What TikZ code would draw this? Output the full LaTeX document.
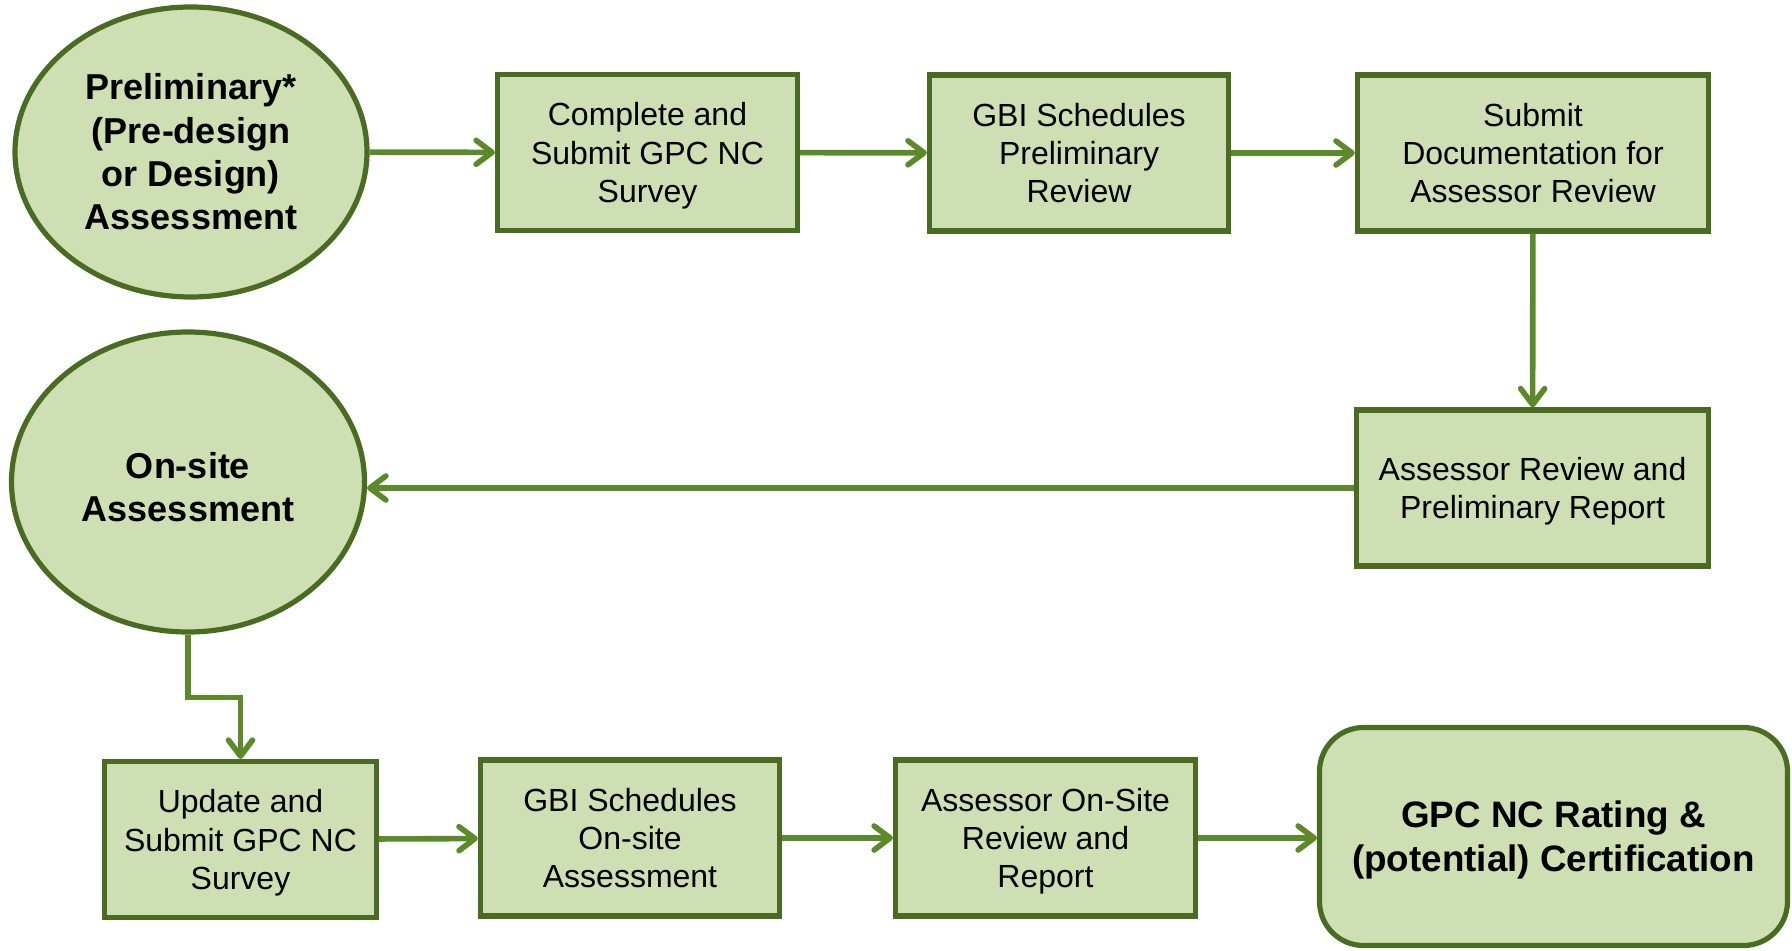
\documentclass[tikz,border=0pt]{standalone}
\usepackage{fontspec}
\setmainfont{Liberation Sans}
\usetikzlibrary{positioning, arrows.meta, shapes.geometric}
\definecolor{stepfill}{HTML}{CFDFB4}
\definecolor{stepline}{HTML}{4A6B22}
\definecolor{flowgreen}{HTML}{5C8A2A}

\tikzset{
	stepbox/.style={rectangle, draw=stepline, fill=stepfill, line width=2.6pt,
		align=center, minimum width=150pt, minimum height=78pt, text depth=0pt,
		font=\fontsize{16}{19.1}\selectfont},
	phase/.style={ellipse, draw=stepline, fill=stepfill, line width=2.6pt,
		align=center, inner sep=0pt, font=\bfseries\fontsize{18}{21.7}\selectfont},
	flow/.style={draw=flowgreen, line width=2.8pt,
		-{Straight Barb[length=8pt, width=12pt, round]}}
}

\begin{document}
\begin{tikzpicture}
			[x=0.5pt, y=-0.5pt]
		\useasboundingbox (0,0) rectangle (1792,951);
		% nodes %
		\node[phase, minimum width=176pt, minimum height=145pt] (prelim) at (191,152)
			{Preliminary*\\(Pre-design\\or Design)\\Assessment};
		\node[stepbox] (survey) at (647.5,152.5) {Complete and\\Submit GPC NC\\Survey};
		\node[stepbox, minimum width=149.6pt] (schedprelim) at (1079,153) {GBI Schedules\\Preliminary\\Review};
		\node[stepbox, minimum width=175.6pt] (submitdoc) at (1533,153) {Submit\\Documentation for\\Assessor Review};
		\node[stepbox, minimum width=176pt] (prelimreport) at (1532.5,488) {Assessor Review and\\Preliminary Report};
		\node[phase, minimum width=176.5pt, minimum height=150pt, text height=40pt, text depth=0pt] (onsite) at (188,482)
			{On-site\\Assessment};
		\node[stepbox, minimum width=136pt] (update) at (240.5,839.5) {Update and\\Submit GPC NC\\Survey};
		\node[stepbox, minimum width=149.6pt] (schedonsite) at (630,838) {GBI Schedules\\On-site\\Assessment};
		\node[stepbox] (onsitereport) at (1045.5,838) {Assessor On-Site\\Review and\\Report};
		\node[rectangle, rounded corners=22pt, draw=stepline, fill=stepfill, line width=2.6pt,
			align=center, minimum width=234pt, minimum height=109pt, text depth=0pt,
			font=\bfseries\fontsize{18.4}{22}\selectfont] (rating) at (1553.5,836.5)
			{GPC NC Rating \&\\(potential) Certification};

		% edges %
		\draw[flow] (prelim) -- (survey);
		\draw[flow] (survey) -- (schedprelim);
		\draw[flow] (schedprelim) -- (submitdoc);
		\draw[flow] (submitdoc) -- (prelimreport);
		\draw[flow] (prelimreport.west) -- (prelimreport.west -| onsite.east);
		\draw[flow] (onsite.south) -- ++(0,63) -| (update.north);
		\draw[flow] (update) -- (schedonsite);
		\draw[flow] (schedonsite) -- (onsitereport);
		\draw[flow] (onsitereport.east) -- (onsitereport.east -| rating.west);
		\end{tikzpicture}
\end{document}
